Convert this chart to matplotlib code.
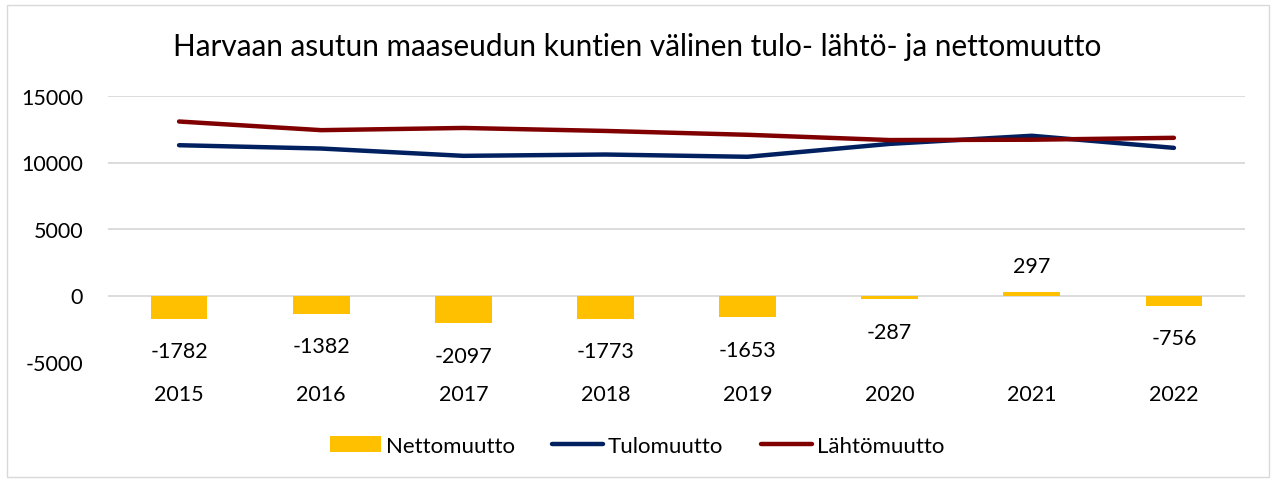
import matplotlib.pyplot as plt
import matplotlib.patches as mpatches
import numpy as np

plt.rcParams['font.family'] = ['Lato', 'DejaVu Sans']
plt.rcParams['axes.unicode_minus'] = False

years = ["2015", "2016", "2017", "2018", "2019", "2020", "2021", "2022"]
nettomuutto = [-1782, -1382, -2097, -1773, -1653, -287, 297, -756]
tulomuutto = [11300, 11050, 10500, 10600, 10430, 11400, 12010, 11100]
lahtomuutto = [13082, 12432, 12597, 12373, 12083, 11687, 11713, 11856]

fig = plt.figure(figsize=(12.74, 4.81), dpi=100)
ax = fig.add_axes([108 / 1274, 1 - 363 / 481, (1245 - 108) / 1274, (363 - 97) / 481])

# outer chart border
fig.patches.append(mpatches.Rectangle((7 / 1274, 3 / 481), 1262 / 1274, 472 / 481,
                                      transform=fig.transFigure, fill=False,
                                      edgecolor="#d9d9d9", linewidth=1))

x = np.arange(len(years))
bars = ax.bar(x, nettomuutto, width=0.4, color="#FFC000", label="Nettomuutto", zorder=2)
ax.plot(x, tulomuutto, color="#002060", linewidth=3.2, solid_capstyle="round",
        label="Tulomuutto", zorder=3)
ax.plot(x, lahtomuutto, color="#800000", linewidth=3.2, solid_capstyle="round",
        label="Lähtömuutto", zorder=3)

# data labels for the bars
for xi, v in zip(x, nettomuutto):
    if v < 0:
        ax.annotate(str(v), (xi, v), xytext=(0, -16), textcoords="offset points",
                    ha="center", va="top", fontsize=15.5, color="#000000")
    else:
        ax.annotate(str(v), (xi, v), xytext=(0, 11), textcoords="offset points",
                    ha="center", va="bottom", fontsize=15.5, color="#000000")

ax.set_xlim(-0.5, len(years) - 0.5)
ax.set_ylim(-5000, 15000)
ax.set_yticks([-5000, 0, 5000, 10000, 15000])
ax.set_xticks(x)
ax.set_xticklabels(years)
ax.tick_params(axis="both", length=0, labelsize=15.5)
ax.tick_params(axis="y", pad=18)
ax.tick_params(axis="x", pad=16)

for yv in [0, 5000, 10000, 15000]:
    ax.axhline(yv, color="#d9d9d9", linewidth=1.3, zorder=1)
for s in ax.spines.values():
    s.set_visible(False)

fig.text(0.5, 1 - 47 / 481, "Harvaan asutun maaseudun kuntien välinen tulo- lähtö- ja nettomuutto",
         ha="center", va="center", fontsize=21.4)

h, l = ax.get_legend_handles_labels()
order = [2, 0, 1]
fig.legend([h[i] for i in order], [l[i] for i in order],
           loc="center", bbox_to_anchor=(0.5, 1 - 447 / 481), ncol=3, frameon=False,
           fontsize=16, handlelength=2.3, handletextpad=0.2, columnspacing=1.7)

fig.savefig("out.png", dpi=100)
